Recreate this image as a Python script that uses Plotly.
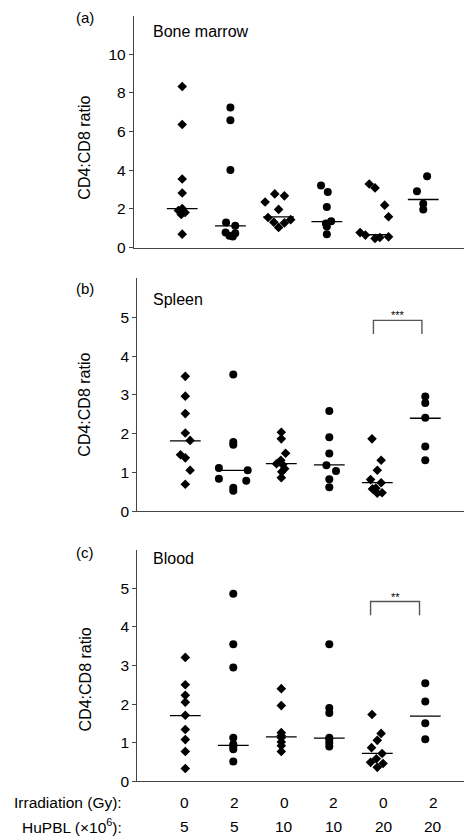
import plotly.graph_objects as go

# ---------------- data ----------------
groups = [1, 2, 3, 4, 5, 6]
group_symbols = ["diamond", "circle", "diamond", "circle", "diamond", "circle"]
irradiation_labels = ["0", "2", "0", "2", "0", "2"]
hupbl_labels = ["5", "5", "10", "10", "20", "20"]

# (a) Bone marrow
bm_values = [
    [8.33, 6.37, 3.55, 2.83, 2.02, 1.92, 1.82, 1.72, 0.70],
    [7.24, 6.59, 4.01, 1.30, 1.14, 0.78, 0.75, 0.62, 0.58],
    [2.78, 2.68, 2.36, 1.98, 1.56, 1.45, 1.32, 1.28, 1.05],
    [3.21, 2.88, 2.10, 1.37, 1.25, 1.10, 0.70],
    [3.29, 3.09, 2.20, 1.60, 0.78, 0.65, 0.56, 0.53, 0.48],
    [3.69, 2.92, 2.27, 1.98],
]
bm_medians = [2.02, 1.13, 1.59, 1.35, 0.67, 2.49]

# (b) Spleen
sp_values = [
    [3.48, 2.97, 2.52, 2.02, 1.83, 1.46, 1.38, 1.06, 0.70],
    [3.53, 1.79, 1.72, 1.12, 1.06, 0.84, 0.79, 0.61, 0.53],
    [2.04, 1.87, 1.50, 1.32, 1.23, 1.20, 1.10, 1.02, 0.87],
    [2.59, 1.91, 1.49, 1.19, 1.04, 0.83, 0.62],
    [1.87, 1.32, 1.06, 0.82, 0.74, 0.60, 0.58, 0.48, 0.47],
    [2.96, 2.79, 2.41, 1.67, 1.32],
]
sp_medians = [1.82, 1.06, 1.23, 1.20, 0.74, 2.40]

# (c) Blood
bl_values = [
    [3.21, 2.50, 2.23, 2.05, 1.71, 1.34, 1.08, 0.77, 0.33],
    [4.86, 3.55, 2.95, 1.13, 0.96, 0.90, 0.83, 0.51],
    [2.40, 1.96, 1.26, 1.18, 1.13, 1.02, 0.92, 0.77],
    [3.55, 1.90, 1.77, 1.13, 1.08, 1.00, 0.90],
    [1.73, 1.24, 1.06, 0.87, 0.72, 0.58, 0.49, 0.46, 0.36],
    [2.54, 2.07, 1.50, 1.09],
]
bl_medians = [1.70, 0.93, 1.15, 1.12, 0.72, 1.69]

# horizontal scatter of overlapping points (in category units)
bm_jitter = [
    [0, 0, 0, 0, 0, -0.08, 0.06, -0.02, 0],
    [0, 0, 0, -0.09, 0.10, -0.10, 0.10, -0.02, 0.05],
    [-0.08, 0.12, -0.28, 0, -0.22, 0.25, -0.10, 0.12, 0],
    [-0.12, 0.02, 0, 0.09, -0.02, 0, 0],
    [-0.12, 0, 0.20, 0.28, -0.31, -0.20, 0.28, 0.10, 0],
    [0.08, -0.13, 0, 0],
]
sp_jitter = [
    [0, 0, 0, 0, 0.10, -0.10, 0, 0.10, 0],
    [0, 0, 0, -0.30, 0.30, -0.30, 0.27, 0, 0],
    [0, 0, 0.09, -0.01, -0.10, 0.03, 0.07, 0.01, 0],
    [0, 0, 0, -0.06, 0.14, 0, 0],
    [-0.11, 0.08, 0, -0.14, 0.08, -0.03, -0.10, 0.10, 0],
    [0, 0, 0, 0, 0],
]
bl_jitter = [
    [0, 0, 0, 0, 0, 0, 0, 0, 0],
    [0, 0, 0, 0, 0, 0, 0, 0],
    [0, 0, 0, 0, 0, 0, 0, 0],
    [0, 0, 0, 0, 0, 0, 0],
    [-0.11, 0.08, 0, -0.12, 0.10, -0.02, -0.14, 0.12, 0],
    [0, 0, 0, 0],
]

panels = [
    dict(name="Bone marrow", tag="(a)", values=bm_values, jitter=bm_jitter, medians=bm_medians),
    dict(name="Spleen", tag="(b)", values=sp_values, jitter=sp_jitter, medians=sp_medians),
    dict(name="Blood", tag="(c)", values=bl_values, jitter=bl_jitter, medians=bl_medians),
]

# ---------------- layout geometry ----------------
W, H = 472, 837
FONT = "Liberation Sans, Arial, Helvetica, sans-serif"
AXC = "#444444"

def py(px):
    return 1 - px / H

x_domains = [[126 / W, 462 / W], [129.3 / W, 1.0], [129.3 / W, 1.0]]
x_ranges = [[0, 6.97], [0, 7.14], [0, 7.14]]
y_domains = [[py(242), py(7.6)], [py(508.3), py(273.1)], [py(780.7), py(547.0)]]
y_ranges = [[0, 12], [0, 6], [0, 6]]
y_ticks = [[0, 2, 4, 6, 8, 10], [0, 1, 2, 3, 4, 5], [0, 1, 2, 3, 4, 5]]
title_y = [5.17, 2.75, 2.64]          # centre of the rotated y title (data units)
tag_px = [10, 283, 550]
inset_px = [24, 294, 556]

fig = go.Figure()
annotations = []
shapes = []

for i, p in enumerate(panels):
    sfx = "" if i == 0 else str(i + 1)
    xa, ya = "x" + sfx, "y" + sfx
    for g, vals, jit, sym in zip(groups, p["values"], p["jitter"], group_symbols):
        fig.add_trace(go.Scatter(
            x=[g + d for d in jit], y=vals, mode="markers",
            marker=dict(symbol=sym, size=7.4 if sym == "diamond" else 8,
                        color="black", line=dict(width=0)),
            xaxis=xa, yaxis=ya, showlegend=False, hoverinfo="skip"))
    fig.add_trace(go.Scatter(
        x=groups, y=p["medians"], mode="markers",
        marker=dict(symbol="line-ew", size=22, color="black",
                    line=dict(width=1.3, color="black")),
        xaxis=xa, yaxis=ya, showlegend=False, hoverinfo="skip"))

    fig.layout["xaxis" + sfx] = dict(
        domain=x_domains[i], range=x_ranges[i], anchor=ya,
        showline=True, linecolor=AXC, linewidth=1.4, showticklabels=False,
        ticks="", showgrid=False, zeroline=False, fixedrange=True)
    fig.layout["yaxis" + sfx] = dict(
        domain=y_domains[i], range=y_ranges[i], anchor=xa,
        showline=True, linecolor=AXC, linewidth=1.4, ticks="outside",
        ticklen=4, tickcolor=AXC, tickvals=y_ticks[i],
        tickfont=dict(family=FONT, size=15.5, color="black"),
        showgrid=False, zeroline=False, fixedrange=True)

    annotations.append(dict(
        text="CD4:CD8 ratio", textangle=-90, xref="paper", yref=ya,
        x=77 / W, y=title_y[i], xanchor="center", yanchor="middle",
        showarrow=False, font=dict(family=FONT, size=16, color="black")))
    annotations.append(dict(
        text=p["tag"], xref="paper", yref="paper", x=66 / W, y=py(tag_px[i]),
        xanchor="left", yanchor="middle", showarrow=False,
        font=dict(family=FONT, size=15, color="black")))
    annotations.append(dict(
        text=p["name"], xref="paper", yref="paper", x=143 / W, y=py(inset_px[i]),
        xanchor="left", yanchor="middle", showarrow=False,
        font=dict(family=FONT, size=16, color="black")))

# significance brackets (between groups 5 and 6)
brackets = [
    dict(xa="x2", ya="y2", top=4.92, bottom=4.57, text="***", ty=5.06),
    dict(xa="x3", ya="y3", top=4.66, bottom=4.30, text="**", ty=4.77),
]
for b, (l, r) in zip(brackets, [(groups[4] - 0.08, groups[5] - 0.07),
                                 (groups[4] - 0.14, groups[5] - 0.12)]):
    shapes.append(dict(
        type="path", xref=b["xa"], yref=b["ya"],
        path=f"M {l},{b['bottom']} L {l},{b['top']} L {r},{b['top']} L {r},{b['bottom']}",
        line=dict(color="#555555", width=1.4)))
    annotations.append(dict(
        text=b["text"], xref=b["xa"], yref=b["ya"], x=(l + r) / 2, y=b["ty"],
        xanchor="center", yanchor="middle", showarrow=False,
        font=dict(family=FONT, size=11, color="black")))

# bottom condition rows
annotations.append(dict(
    text="Irradiation (Gy):", xref="paper", yref="paper", x=116 / W, y=py(801.7),
    xanchor="right", yanchor="middle", showarrow=False,
    font=dict(family=FONT, size=15.5, color="black")))
annotations.append(dict(
    text="HuPBL (×10<sup>6</sup>):", xref="paper", yref="paper", x=116 / W, y=py(826),
    xanchor="right", yanchor="middle", showarrow=False,
    font=dict(family=FONT, size=15.5, color="black")))
for k, (g, ir, hu) in enumerate(zip(groups, irradiation_labels, hupbl_labels)):
    for txt, ypx in ((ir, 801.7), (hu, 826)):
        annotations.append(dict(
            text=txt, xref="x3", yref="paper", x=g, y=py(ypx),
            xshift=1.7 * k - 0.5, xanchor="center", yanchor="middle",
            showarrow=False, font=dict(family=FONT, size=15.5, color="black")))

fig.update_layout(
    width=W, height=H, margin=dict(l=0, r=0, t=0, b=0),
    paper_bgcolor="white", plot_bgcolor="white", showlegend=False,
    annotations=annotations, shapes=shapes,
    font=dict(family=FONT, color="black"),
)

fig.write_html("out.html")
